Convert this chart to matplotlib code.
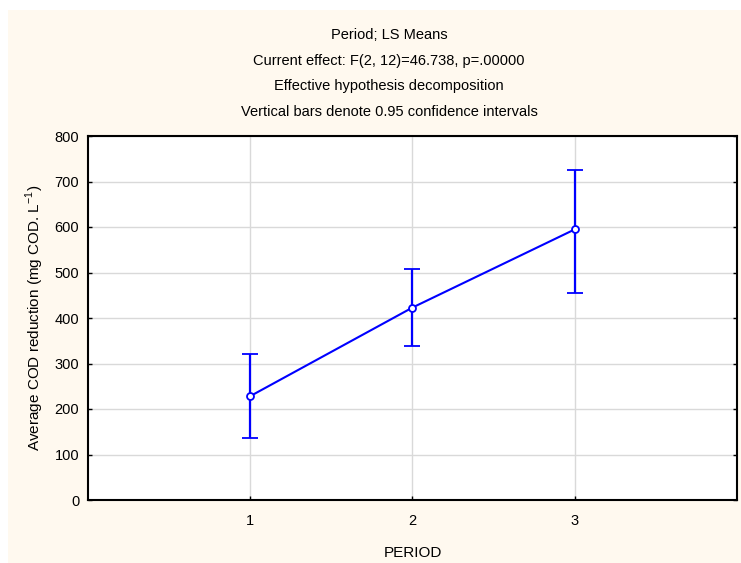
import matplotlib
matplotlib.use("Agg")
import matplotlib.pyplot as plt
from matplotlib.patches import Rectangle

periods = [1, 2, 3]
means = [228, 423, 595]
ci_low = [137, 338, 456]
ci_high = [320, 507, 725]
title_lines = ["Period; LS Means",
               "Current effect: F(2, 12)=46.738, p=.00000",
               "Effective hypothesis decomposition",
               "Vertical bars denote 0.95 confidence intervals"]
yticks = [0, 100, 200, 300, 400, 500, 600, 700, 800]

plt.rcParams['font.family'] = ['Liberation Sans', 'DejaVu Sans']

W, H = 741, 563
fig = plt.figure(figsize=(W/100, H/100), dpi=100)
fig.patch.set_facecolor('white')
fig.patches.append(Rectangle((8/W, 0), 1 - 8/W, 1 - 10/H, transform=fig.transFigure,
                             facecolor='#FFF9EF', edgecolor='none', zorder=-10))

ax = fig.add_axes([87.5/W, 1 - 500/H, 650/W, 364/H])
ax.set_facecolor('white')

lower = [m - l for m, l in zip(means, ci_low)]
upper = [h - m for m, h in zip(means, ci_high)]
ax.errorbar(periods, means, yerr=[lower, upper], color='#0000FF', lw=1.5,
            elinewidth=1.6, capsize=5.5, capthick=1.6, marker='o', ms=5,
            mfc='white', mec='#0000FF', mew=1.3, zorder=3)

ax.set_xlim(0, 4)
ax.set_ylim(0, 800)
ax.set_xticks(periods)
ax.set_yticks(yticks)
ax.grid(True, color='#D9D9D9', lw=1)
ax.set_axisbelow(True)
for s in ax.spines.values():
    s.set_linewidth(1.5)
    s.set_color('black')
ax.tick_params(direction='in', length=3, width=1, labelsize=10.5, pad=6,
               right=True, top=False, colors='black')
ax.tick_params(axis='x', pad=10)

ax.set_xlabel('PERIOD', fontsize=11, labelpad=13)
ax.set_ylabel('Average COD reduction (mg COD. L$^{\\mathregular{-1}}$)', fontsize=11, labelpad=6)

ys = [35, 61, 86, 112]
for t, y in zip(title_lines, ys):
    fig.text(389/W, 1 - y/H, t, ha='center', va='center', fontsize=10.5)

fig.savefig('out.png', dpi=100)
